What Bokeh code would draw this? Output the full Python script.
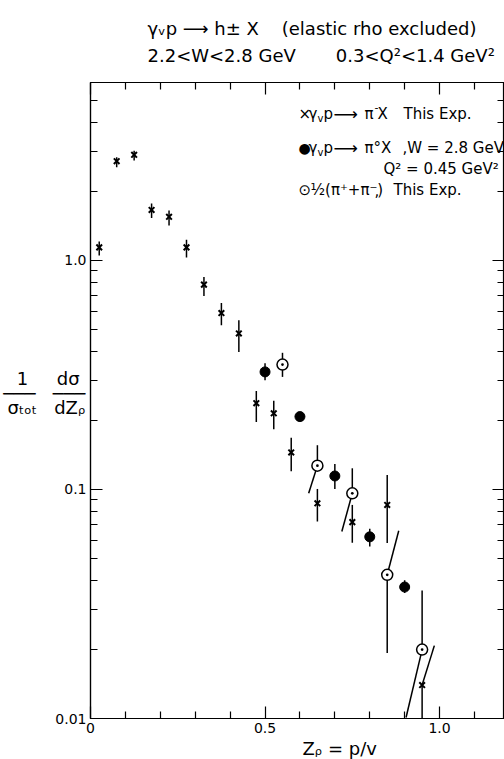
from bokeh.plotting import figure
from bokeh.models import (LinearAxis, LogAxis, Label, Range1d,
                          FixedTicker, CustomJSTickFormatter, Title)
from bokeh.embed import file_html
from bokeh.resources import INLINE

# ---- data: gamma_v p -> pi- X (this experiment) ----
pim_z = [0.025, 0.075, 0.125, 0.175, 0.225, 0.275, 0.325, 0.375, 0.425, 0.475,
         0.525, 0.575, 0.65, 0.75, 0.85, 0.95]
pim_y = [1.14, 2.71, 2.89, 1.66, 1.55, 1.14, 0.784, 0.589, 0.48, 0.238,
         0.215, 0.145, 0.087, 0.072, 0.0856, 0.014]
pim_hi = [1.21, 2.82, 3.01, 1.77, 1.65, 1.23, 0.846, 0.652, 0.548, 0.269,
          0.244, 0.168, 0.1005, 0.0856, 0.1157, 0.0208]
pim_lo = [1.05, 2.55, 2.73, 1.53, 1.42, 1.03, 0.699, 0.521, 0.398, 0.197,
          0.183, 0.120, 0.0724, 0.0585, 0.0583, 0.0100]
pim_dx_hi = [0, 0, 0, 0, 0, 0, 0, 0, 0, 0, 0, 0, 0, 0, 0, 0.035]
pim_dx_lo = [0, 0, 0, 0, 0, 0, 0, 0, 0, 0, 0, 0, 0, 0, 0, 0]

# ---- data: gamma_v p -> pi0 X, W = 2.8 GeV, Q2 = 0.45 GeV2 ----
pi0_z = [0.5, 0.6, 0.7, 0.8, 0.9]
pi0_y = [0.326, 0.208, 0.1145, 0.0621, 0.0375]
pi0_hi = [0.356, 0.215, 0.129, 0.0673, 0.0401]
pi0_lo = [0.300, 0.200, 0.1005, 0.0563, 0.0353]

# ---- data: 1/2 (pi+ + pi-), this experiment ----
avg_z = [0.55, 0.65, 0.75, 0.85, 0.95]
avg_y = [0.351, 0.127, 0.0962, 0.0424, 0.0200]
avg_hi = [0.395, 0.156, 0.1237, 0.066, 0.0362]
avg_lo = [0.310, 0.0962, 0.0655, 0.0193, 0.0101]
avg_dx_hi = [0, 0, 0, 0.033, 0]
avg_dx_lo = [0, -0.025, -0.03, 0, -0.046]

x_major = [0, 0.5, 1.0]
x_minor = [0.1, 0.2, 0.3, 0.4, 0.6, 0.7, 0.8, 0.9, 1.1]
y_major = [0.01, 0.1, 1.0]
y_minor = [0.02, 0.03, 0.04, 0.05, 0.06, 0.07, 0.08, 0.09,
           0.2, 0.3, 0.4, 0.5, 0.6, 0.7, 0.8, 0.9, 2, 3, 4, 5]

FONT = "DejaVu Sans"
NB = "\u00a0"

p = figure(width=504, height=759, y_axis_type="log",
           x_range=Range1d(0, 1.186), y_range=Range1d(0.01, 5.98),
           output_backend="svg", toolbar_location=None,
           min_border_left=90, min_border_right=0, min_border_top=82,
           min_border_bottom=41)
p.grid.visible = False
p.outline_line_color = "black"
p.outline_line_width = 1.2
p.background_fill_color = "white"
p.border_fill_color = "white"

xt = FixedTicker(ticks=x_major, minor_ticks=x_minor)
yt = FixedTicker(ticks=y_major, minor_ticks=y_minor)
xf = CustomJSTickFormatter(code="return tick == 0 ? '0' : tick.toFixed(1);")
yf = CustomJSTickFormatter(code="return tick >= 1 ? tick.toFixed(1) : String(tick);")
blank = CustomJSTickFormatter(code="return '';")


def style_axis(ax, labels=True):
    ax.axis_line_color = "black"
    ax.axis_line_width = 1.2
    ax.major_tick_in = 12
    ax.major_tick_out = 0
    ax.minor_tick_in = 7
    ax.minor_tick_out = 0
    ax.major_tick_line_width = 1.2
    ax.minor_tick_line_width = 1.2
    ax.major_label_text_font = FONT
    ax.major_label_text_color = "black"
    if labels:
        ax.major_label_text_font_size = "14px"
        ax.major_label_standoff = 4
    else:
        ax.major_label_text_font_size = "1px"
        ax.major_label_standoff = 0


bx = p.xaxis[0]
bx.ticker = xt
bx.formatter = xf
style_axis(bx)
ly = p.yaxis[0]
ly.ticker = yt
ly.formatter = yf
style_axis(ly)

top = LinearAxis(ticker=xt, formatter=blank)
style_axis(top, labels=False)
p.add_layout(top, "above")
right = LogAxis(ticker=yt, formatter=blank)
style_axis(right, labels=False)
p.add_layout(right, "right")

# y-axis label: 1/sigma_tot  dsigma/dZ_rho, written as stacked fractions
ly.axis_label = (NB * 2 + "1" + NB * 5 + "dσ" + NB + "\n"
                 + "───" + NB * 3 + "───" + "\n"
                 + "σₜₒₜ" + NB * 3 + "dZᵨ" + "\n" + NB)
ly.axis_label_orientation = "horizontal"
ly.axis_label_text_font = FONT
ly.axis_label_text_font_size = "18px"
ly.axis_label_text_font_style = "normal"
ly.axis_label_text_color = "black"
ly.axis_label_text_align = "center"
ly.axis_label_text_line_height = 0.7
ly.axis_label_standoff = -33

# two-line title
head = Title(text=("γᵥp" + NB + "⟶" + NB + "h±" + NB + "X" + NB * 4
                   + "(elastic" + NB + "rho" + NB + "excluded)" + "\n"
                   + "2.2<W<2.8" + NB + "GeV" + NB * 7 + "0.3<Q²<1.4" + NB + "GeV²"),
             align="left", offset=57, text_font=FONT, text_font_size="18px",
             text_font_style="normal", text_color="black", standoff=32,
             text_line_height=1.3)
p.add_layout(head, "above")

# x-axis label
xl = Title(text="Zᵨ" + NB + "=" + NB + "p/v", align="left", offset=212,
           text_font=FONT, text_font_size="18px", text_font_style="normal",
           text_color="black", standoff=0)
p.add_layout(xl, "below")

# error bars (some drawn slanted as in the original)
def bars(z, y, lo, hi, dxl, dxh):
    p.segment(x0=z, y0=y, x1=[a + b for a, b in zip(z, dxh)], y1=hi,
              line_color="black", line_width=1.5)
    p.segment(x0=z, y0=y, x1=[a + b for a, b in zip(z, dxl)], y1=lo,
              line_color="black", line_width=1.5)

bars(pim_z, pim_y, pim_lo, pim_hi, pim_dx_lo, pim_dx_hi)
bars(pi0_z, pi0_y, pi0_lo, pi0_hi, [0] * len(pi0_z), [0] * len(pi0_z))
bars(avg_z, avg_y, avg_lo, avg_hi, avg_dx_lo, avg_dx_hi)

p.scatter(pim_z, pim_y, marker="x", size=8, line_color="black", line_width=2)
p.scatter(pi0_z, pi0_y, marker="circle", size=10, fill_color="black",
          line_color="black")
p.scatter(avg_z, avg_y, marker="circle_dot", size=11, fill_color="white",
          line_color="black", line_width=1.5)


def lab(x, y, text, size=15, align="left"):
    p.add_layout(Label(x=x, y=y, x_units="canvas", y_units="canvas",
                       text=text, text_font=FONT, text_font_size=f"{size}px",
                       text_align=align, text_baseline="middle",
                       text_color="black"))

# legend
lab(298, 113, "×")
lab(308, 113, "γ")
lab(317, 118, "v", 10)
lab(323, 113, "p")
lab(333, 113, "⟶", 17)
lab(364, 113, "π")
lab(374, 106, "-", 11)
lab(377, 113, "X")
lab(403, 113, "This Exp.")
lab(298, 147, "●", 14)
lab(308, 147, "γ")
lab(317, 152, "v", 10)
lab(323, 147, "p")
lab(333, 147, "⟶", 17)
lab(364, 147, "π°X")
lab(402, 147, ",W = 2.8 GeV")
lab(383, 168, "Q² = 0.45 GeV²")
lab(298, 189, "⊙")
lab(310, 189, "½(π⁺+π⁻)")
lab(374, 189, ",")
lab(393, 189, "This Exp.")

open("out.html", "w").write(file_html(p, INLINE))
